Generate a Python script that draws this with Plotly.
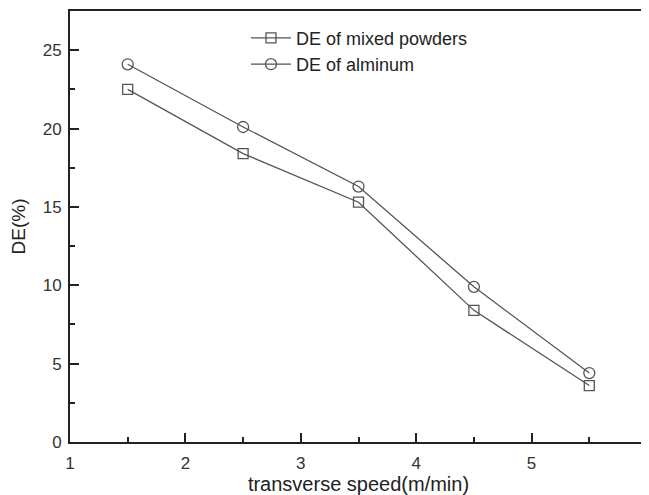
import plotly.graph_objects as go

speed = [1.5, 2.5, 3.5, 4.5, 5.5]
de_mixed = [22.5, 18.4, 15.3, 8.4, 3.6]
de_alum = [24.1, 20.1, 16.3, 9.9, 4.4]
series_names = ["DE of mixed powders", "DE of alminum"]
x_ticks = [1, 2, 3, 4, 5, 6]
y_ticks = [0, 5, 10, 15, 20, 25]

FONT = "Liberation Sans, Arial, sans-serif"
line_col = "#555555"
fig = go.Figure()
fig.add_trace(go.Scatter(
    x=speed, y=de_mixed, name=series_names[0], mode="lines+markers",
    line=dict(color=line_col, width=1.3),
    marker=dict(symbol="square-open", size=10, color=line_col, line=dict(width=1.3)),
))
fig.add_trace(go.Scatter(
    x=speed, y=de_alum, name=series_names[1], mode="lines+markers",
    line=dict(color=line_col, width=1.3),
    marker=dict(symbol="circle-open", size=11, color=line_col, line=dict(width=1.3)),
))

axis_common = dict(
    showline=True, linecolor="#222", linewidth=2, mirror=True,
    ticks="inside", ticklen=9, tickwidth=2, tickcolor="#222",
    showgrid=False, zeroline=False, automargin=False,
    ticklabeloverflow="allow",
    tickfont=dict(family=FONT, size=17, color="#333"),
)
fig.update_xaxes(
    range=[1, 6], tickvals=x_ticks, ticktext=[str(v) for v in x_ticks],
    minor=dict(ticks="inside", ticklen=5, tickwidth=2, dtick=0.5, tickcolor="#222"),
    ticklabelstandoff=5,
    title=dict(text="transverse speed(m/min)", standoff=2,
               font=dict(family=FONT, size=20, color="#222")),
    **axis_common,
)
fig.update_yaxes(
    range=[0, 27.5], tickvals=y_ticks, ticktext=[str(v) for v in y_ticks],
    minor=dict(ticks="inside", ticklen=5, tickwidth=2, dtick=2.5, tickcolor="#222"),
    ticklabelstandoff=3,
    title=dict(text="DE(%)", standoff=12,
               font=dict(family=FONT, size=19, color="#222")),
    **axis_common,
)
fig.update_layout(
    width=641, height=487,
    margin=dict(l=62, r=2, t=3, b=53),
    plot_bgcolor="white", paper_bgcolor="white",
    showlegend=True,
    legend=dict(x=0.305, y=0.98, xanchor="left", yanchor="top",
                bgcolor="rgba(0,0,0,0)", borderwidth=0,
                font=dict(family=FONT, size=18, color="#222"),
                tracegroupgap=0, itemwidth=40),
)
fig.write_html("out.html")
